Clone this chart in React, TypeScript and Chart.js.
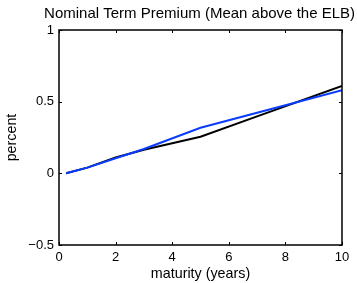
import React, { useEffect, useRef } from "react";
import { Chart, registerables } from "chart.js";

Chart.register(...registerables);

const maturities = [0.25, 1, 2, 3, 5, 7, 10];
const blackValues = [0, 0.04, 0.11, 0.165, 0.255, 0.397, 0.609];
const blueValues = [0, 0.04, 0.105, 0.17, 0.318, 0.423, 0.58];
const xTicks = [0, 2, 4, 6, 8, 10];
const yTicks = [-0.5, 0, 0.5, 1];
const titleText = "Nominal Term Premium (Mean above the ELB)";
const xLabel = "maturity (years)";
const yLabel = "percent";

const FONT = "'Liberation Sans', Arial, Helvetica, sans-serif";

const fmt = (v: number) => {
  const s = String(Math.abs(v));
  return v < 0 ? "\u2212" + s : s;
};

const boxPlugin = {
  id: "matlabBox",
  afterDraw(chart: any) {
    const { ctx, chartArea } = chart;
    const { left, right, top, bottom } = chartArea;
    const xs = chart.scales.x;
    const ys = chart.scales.y;
    ctx.save();
    ctx.strokeStyle = "#000";
    ctx.lineWidth = 1;
    ctx.beginPath();
    const tl = 3;
    xTicks.forEach((t) => {
      const px = Math.round(xs.getPixelForValue(t)) + 0.5;
      ctx.moveTo(px, bottom);
      ctx.lineTo(px, bottom - tl);
      ctx.moveTo(px, top);
      ctx.lineTo(px, top + tl);
    });
    yTicks.forEach((t) => {
      const py = Math.round(ys.getPixelForValue(t)) + 0.5;
      ctx.moveTo(left, py);
      ctx.lineTo(left + tl, py);
      ctx.moveTo(right, py);
      ctx.lineTo(right - tl, py);
    });
    ctx.stroke();
    ctx.lineWidth = 1.5;
    ctx.strokeRect(left, top, right - left, bottom - top);
    ctx.restore();
  },
};

export default function App() {
  const ref = useRef<HTMLCanvasElement | null>(null);

  useEffect(() => {
    document.body.style.margin = "0";
    const canvas = ref.current;
    if (!canvas) return;
    const chart = new Chart(canvas, {
      type: "line",
      data: {
        datasets: [
          {
            label: "blue",
            data: maturities.map((m, i) => ({ x: m, y: blueValues[i] })),
            borderColor: "#0a3cff",
            borderWidth: 2,
            pointRadius: 0,
            tension: 0,
            fill: false,
            order: 0,
          },
          {
            label: "black",
            data: maturities.map((m, i) => ({ x: m, y: blackValues[i] })),
            borderColor: "#000000",
            borderWidth: 2,
            pointRadius: 0,
            tension: 0,
            fill: false,
            order: 1,
          },
        ],
      },
      options: {
        animation: false,
        responsive: false,
        maintainAspectRatio: false,
        devicePixelRatio: 1,
        layout: { padding: { left: 0, right: 2, top: 0, bottom: 0 } },
        plugins: {
          legend: { display: false },
          tooltip: { enabled: false },
          title: {
            display: true,
            align: "end",
            text: titleText,
            color: "#000",
            font: { family: FONT, size: 15, weight: "normal" },
            padding: { top: 5, bottom: 7 },
          },
        },
        scales: {
          x: {
            type: "linear",
            min: 0,
            max: 10,
            afterBuildTicks: (s: any) => {
              s.ticks = xTicks.map((v) => ({ value: v }));
            },
            afterFit: (s: any) => {
              s.height = 38;
            },
            grid: { display: false, drawTicks: false },
            border: { display: false },
            ticks: {
              color: "#000",
              font: { family: FONT, size: 13 },
              padding: 5,
              maxRotation: 0,
              callback: (v: any) => fmt(Number(v)),
            },
            title: {
              display: true,
              text: xLabel,
              color: "#000",
              font: { family: FONT, size: 14.3 },
              padding: { top: 0, bottom: 0 },
            },
          },
          y: {
            type: "linear",
            min: -0.5,
            max: 1,
            afterBuildTicks: (s: any) => {
              s.ticks = yTicks.map((v) => ({ value: v }));
            },
            afterFit: (s: any) => {
              s.width = 59;
            },
            grid: { display: false, drawTicks: false },
            border: { display: false },
            ticks: {
              color: "#000",
              font: { family: FONT, size: 13 },
              padding: 5,
              callback: (v: any) => fmt(Number(v)),
            },
            title: {
              display: true,
              text: yLabel,
              color: "#000",
              font: { family: FONT, size: 14.3 },
              padding: { top: 3, bottom: 6 },
            },
          },
          yRight: {
            type: "linear",
            position: "right",
            min: -0.5,
            max: 1,
            afterFit: (s: any) => {
              s.width = 13;
            },
            grid: { display: false, drawTicks: false },
            border: { display: false },
            ticks: { display: false },
          },
        },
      },
      plugins: [boxPlugin],
    });
    return () => chart.destroy();
  }, []);

  return (
    <div style={{ position: "absolute", left: 0, top: 0, width: 357, height: 283, background: "#fff" }}>
      <canvas ref={ref} width={357} height={283} style={{ width: 357, height: 283 }} />
    </div>
  );
}
